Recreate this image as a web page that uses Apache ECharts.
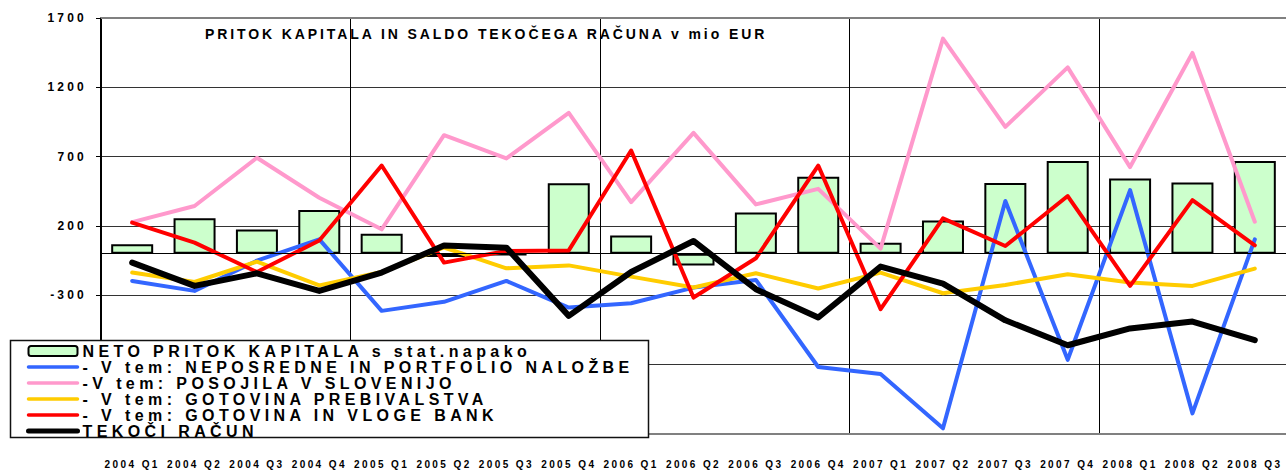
<!DOCTYPE html>
<html>
<head>
<meta charset="utf-8">
<script src="https://cdn.jsdelivr.net/npm/echarts@6/dist/echarts.min.js"></script>
<style>
html,body{margin:0;padding:0;background:#fff;}
#c{width:1286px;height:470px;}
text[style*="16px"]{letter-spacing:4.4px;}
text[style*="14px"]{letter-spacing:2.9px;}
text[style*="12px"]{letter-spacing:3.2px;}
text[style*="10px"]{letter-spacing:2.4px;}
</style>
</head>
<body>
<div id="c"></div>
<script>
const categories = ['2004 Q1','2004 Q2','2004 Q3','2004 Q4','2005 Q1','2005 Q2','2005 Q3','2005 Q4','2006 Q1','2006 Q2','2006 Q3','2006 Q4','2007 Q1','2007 Q2','2007 Q3','2007 Q4','2008 Q1','2008 Q2','2008 Q3'];
const netoPritok = [68, 255, 174, 316, 145, -24, -12, 508, 132, -85, 298, 556, 80, 240, 510, 668, 542, 514, 668];
const neposredne = [-196, -268, -50, 104, -412, -347, -196, -388, -357, -244, -189, -817, -868, -1259, 380, -765, 459, -1151, 104];
const posojila = [228, 344, 692, 404, 176, 855, 687, 1016, 372, 872, 356, 468, 37, 1551, 915, 1344, 625, 1448, 231];
const gotovinaPreb = [-136, -204, -57, -228, -132, 45, -105, -84, -165, -244, -141, -251, -136, -285, -225, -148, -208, -232, -107];
const gotovinaBank = [224, 80, -132, 96, 636, -64, 20, 24, 744, -316, -33, 636, -400, 255, 56, 416, -232, 387, 60];
const tekociRacun = [-64, -232, -141, -268, -136, 60, 44, -448, -132, 92, -256, -460, -93, -215, -480, -660, -539, -489, -623];
const names = ['NETO PRITOK KAPITALA s stat.napako','- V tem: NEPOSREDNE IN PORTFOLIO NALOŽBE','-V tem: POSOJILA V SLOVENIJO','- V tem: GOTOVINA PREBIVALSTVA','- V tem: GOTOVINA IN VLOGE BANK','TEKOČI RAČUN'];
const titleText = 'PRITOK KAPITALA IN SALDO TEKOČEGA RAČUNA v mio EUR';

const FONT = 'Liberation Sans, Arial, sans-serif';
const chart = echarts.init(document.getElementById('c'), null, {renderer: 'svg'});
function lineSeries(name, data, color, width, z) {
  return {name: name, type: 'line', data: data, symbol: 'none', showSymbol: false, z: z,
    lineStyle: {color: color, width: width, join: 'round', cap: 'round'},
    itemStyle: {color: color}, animation: false};
}
const legendData = names.map(function (n, i) {
  return i === 0 ? {name: n} : {name: n, itemStyle: {opacity: 0}, lineStyle: {width: i === 5 ? 5 : 3.5}};
});
chart.setOption({
  animation: false,
  backgroundColor: '#fff',
  title: {text: titleText, left: 205, top: 26, padding: 0,
    textStyle: {fontFamily: FONT, fontWeight: 'bold', fontSize: 14, color: '#000', lineHeight: 16}},
  grid: {left: 101, top: 18, width: 1187, height: 416, containLabel: false},
  legend: {orient: 'vertical', left: 26, top: 343, padding: 0, itemGap: 0, itemWidth: 49, itemHeight: 10,
    selectedMode: false, z: 60, data: legendData,
    textStyle: {fontFamily: FONT, fontWeight: 'bold', fontSize: 16, color: '#000', lineHeight: 16}},
  graphic: [{type: 'rect', z: 50, shape: {x: 10.5, y: 340.5, width: 638, height: 97},
    style: {fill: '#fff', stroke: '#111', lineWidth: 1.5}}],
  xAxis: [{
    type: 'category', data: categories, boundaryGap: true, position: 'bottom',
    axisLine: {onZero: false, lineStyle: {color: '#808080', width: 2}},
    axisTick: {show: false},
    axisLabel: {interval: 0, margin: 25, fontFamily: FONT, fontWeight: 'bold', fontSize: 10, color: '#000'},
    splitLine: {show: true, interval: function (i) { return i > 0 && i % 4 === 0; },
      lineStyle: {color: '#000', width: 1}}
  }, {
    type: 'category', data: categories, position: 'top', boundaryGap: true,
    axisLine: {onZero: false, lineStyle: {color: '#808080', width: 2}},
    axisTick: {show: false}, axisLabel: {show: false}, splitLine: {show: false}
  }],
  yAxis: {
    type: 'value', min: -1300, max: 1700, interval: 500,
    axisLine: {show: true, lineStyle: {color: '#000', width: 2}},
    axisTick: {show: true, length: 5, lineStyle: {color: '#000', width: 1}},
    axisLabel: {margin: 14, fontFamily: FONT, fontWeight: 'bold', fontSize: 12, color: '#000',
      formatter: function (v) { return v < -300 ? '' : String(v); }},
    splitLine: {show: true, lineStyle: {color: '#333', width: 1}}
  },
  series: [
    {name: names[0], type: 'bar', data: netoPritok, barWidth: 42, z: 2,
      itemStyle: {color: '#ccffcc', borderColor: '#000', borderWidth: 2},
      markLine: {silent: true, symbol: 'none', label: {show: false}, animation: false,
        lineStyle: {color: '#000', width: 1, type: 'solid'}, data: [{yAxis: 0}]}},
    lineSeries(names[1], neposredne, '#3366ff', 4, 3),
    lineSeries(names[2], posojila, '#ff99cc', 4, 3),
    lineSeries(names[3], gotovinaPreb, '#ffcc00', 4, 3),
    lineSeries(names[4], gotovinaBank, '#ff0000', 4, 3),
    lineSeries(names[5], tekociRacun, '#000000', 6, 4)
  ]
});
</script>
</body>
</html>
